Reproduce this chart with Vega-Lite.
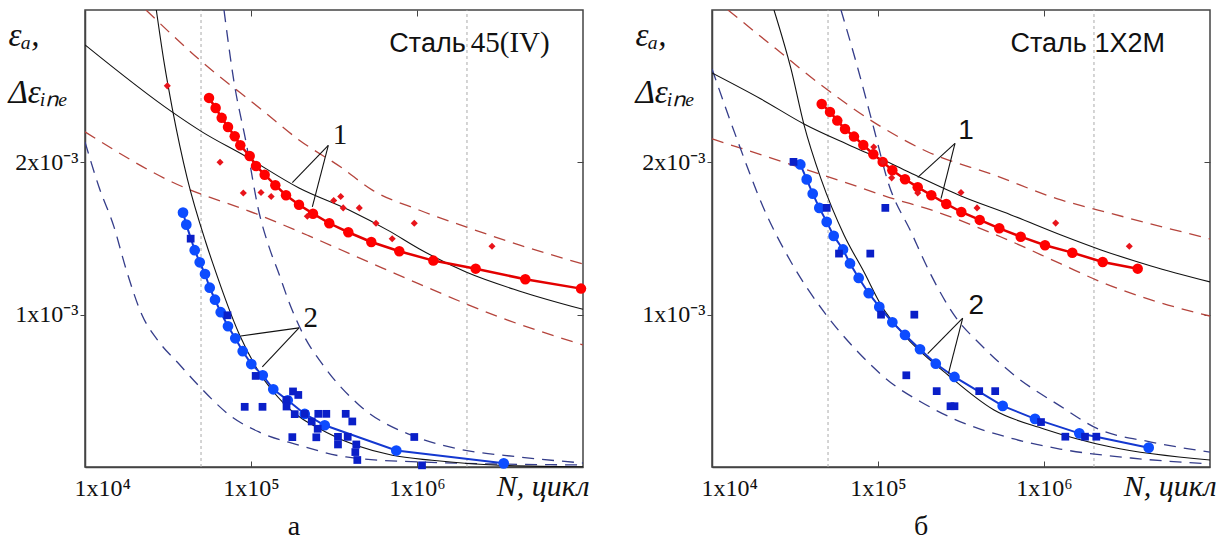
{
  "$schema": "https://vega.github.io/schema/vega-lite/v6.json",
  "background": "white",
  "padding": {"left": 7, "top": 8, "right": 3, "bottom": 0},
  "spacing": 44,
  "config": {
    "view": {"stroke": "#444", "strokeWidth": 1.5},
    "axis": {"grid": false, "domainColor": "#444", "domainWidth": 1.5, "tickColor": "#444", "labelColor": "#111", "labelFont": "Liberation Serif", "labelFontSize": 24, "titleColor": "#111"},
    "title": {"font": "Liberation Serif", "fontSize": 28, "fontWeight": "normal", "color": "#111"}
  },
  "hconcat": [
    {
      "width": 498, "height": 457,
      "data": {"name": "a"},
      "title": {"text": "а", "orient": "bottom", "dx": -40, "offset": 12},
      "resolve": {"axis": {"x": "independent", "y": "independent"}},
      "layer": [
        {
          "encoding": {
            "x": {"field": "N", "type": "quantitative", "scale": {"type": "log", "domain": [10000, 10000000], "nice": false},
              "axis": {"values": [10000, 100000, 1000000], "labelExpr": "datum.value == 10000 ? '1x10⁴' : datum.value == 100000 ? '1x10⁵' : '1x10⁶'", "labelFont": "Liberation Serif", "labelFontSize": 24, "tickSize": -6, "labelPadding": 15, "labelFlush": true, "labelFlushOffset": 11,
                "title": "N, цикл", "titleFont": "Liberation Serif", "titleFontStyle": "italic", "titleFontSize": 30, "titleFontWeight": "normal", "titleAlign": "right", "titleAnchor": "end", "titleX": 504, "titleY": 28, "titleBaseline": "alphabetic"}},
            "y": {"field": "e", "type": "quantitative", "scale": {"domain": [0, 0.003], "nice": false, "zero": false},
              "axis": {"values": [0.001, 0.002], "labelExpr": "datum.value < 0.0015 ? '1x10⁻³' : '2x10⁻³'", "labelFont": "Liberation Serif", "labelFontSize": 24, "tickSize": 5, "labelPadding": 2,
                "title": ["εₐ,", "Δεᵢₙₑ"], "titleAngle": 0, "titleAlign": "left", "titleBaseline": "alphabetic", "titleX": -77, "titleY": 35, "titleFont": "Liberation Serif", "titleFontStyle": "italic", "titleFontSize": 33, "titleFontWeight": "normal", "titleLineHeight": 57}}
          },
          "layer": [
            {"transform": [{"filter": "datum.s=='v'"}], "mark": {"type": "rule", "color": "#aaa", "strokeDash": [3, 3], "strokeWidth": 1}, "encoding": {"y2": {"field": "e2"}}},
            {"transform": [{"filter": "datum.s=='rdu' || datum.s=='rdl'"}], "mark": {"type": "line", "color": "#b5443c", "strokeDash": [12, 8], "strokeWidth": 1.3, "interpolate": "monotone", "clip": true}, "encoding": {"detail": {"field": "s"}}},
            {"transform": [{"filter": "datum.s=='bdu' || datum.s=='bdl'"}], "mark": {"type": "line", "color": "#353d8a", "strokeDash": [12, 8], "strokeWidth": 1.3, "interpolate": "monotone", "clip": true}, "encoding": {"detail": {"field": "s"}}},
            {"transform": [{"filter": "datum.s=='k1' || datum.s=='k2'"}], "mark": {"type": "line", "color": "#111", "strokeWidth": 1.1, "interpolate": "monotone", "clip": true}, "encoding": {"detail": {"field": "s"}}},
            {"transform": [{"filter": "datum.s=='rc'"}], "mark": {"type": "line", "color": "#e30000", "strokeWidth": 2.5}},
            {"transform": [{"filter": "datum.s=='rc'"}], "mark": {"type": "point", "filled": true, "opacity": 1, "size": 110, "color": "#ff0000"}},
            {"transform": [{"filter": "datum.s=='rdm'"}], "mark": {"type": "point", "shape": "diamond", "filled": true, "opacity": 1, "size": 50, "color": "#e8141b"}},
            {"transform": [{"filter": "datum.s=='bc'"}], "mark": {"type": "line", "color": "#1438d0", "strokeWidth": 2}},
            {"transform": [{"filter": "datum.s=='bc'"}], "mark": {"type": "point", "filled": true, "opacity": 1, "size": 115, "color": "#0d4cff"}},
            {"transform": [{"filter": "datum.s=='bsq'"}], "mark": {"type": "square", "opacity": 1, "size": 60, "color": "#0a1fc8"}},
            {"transform": [{"filter": "datum.s=='lead'"}], "mark": {"type": "rule", "color": "#111", "strokeWidth": 1.1}, "encoding": {"x2": {"field": "N2"}, "y2": {"field": "e2"}}},
            {"transform": [{"filter": "datum.s=='lblserif'"}], "mark": {"type": "text", "font": "Liberation Serif", "fontSize": 29, "align": "center", "baseline": "alphabetic", "color": "#111"}, "encoding": {"text": {"field": "t"}}},
            {"transform": [{"filter": "datum.s=='tsr'"}], "mark": {"type": "text", "font": "Liberation Sans", "fontSize": 27, "align": "right", "baseline": "alphabetic", "color": "#111"}, "encoding": {"text": {"field": "t"}}},
            {"transform": [{"filter": "datum.s=='tsl'"}], "mark": {"type": "text", "font": "Liberation Serif", "fontSize": 29, "align": "left", "baseline": "alphabetic", "color": "#111"}, "encoding": {"text": {"field": "t"}}}
          ]
        },
        {
          "transform": [{"filter": "datum.s=='v'"}],
          "mark": {"type": "point", "opacity": 0},
          "encoding": {
            "x": {"field": "N", "type": "quantitative", "scale": {"type": "log", "domain": [10000, 10000000], "nice": false}, "axis": {"orient": "top", "values": [100000, 1000000], "labels": false, "domain": false, "tickSize": -6, "title": null}},
            "y": {"field": "e", "type": "quantitative", "scale": {"domain": [0, 0.003], "nice": false, "zero": false}, "axis": {"orient": "right", "values": [0.001, 0.002], "labels": false, "domain": false, "tickSize": -6, "title": null}}
          }
        }
      ]
    },
    {
      "width": 498, "height": 457,
      "data": {"name": "b"},
      "title": {"text": "б", "orient": "bottom", "dx": -40, "offset": 12},
      "resolve": {"axis": {"x": "independent", "y": "independent"}},
      "layer": [
        {
          "encoding": {
            "x": {"field": "N", "type": "quantitative", "scale": {"type": "log", "domain": [10000, 10000000], "nice": false},
              "axis": {"values": [10000, 100000, 1000000], "labelExpr": "datum.value == 10000 ? '1x10⁴' : datum.value == 100000 ? '1x10⁵' : '1x10⁶'", "labelFont": "Liberation Serif", "labelFontSize": 24, "tickSize": -6, "labelPadding": 15, "labelFlush": true, "labelFlushOffset": 11,
                "title": "N, цикл", "titleFont": "Liberation Serif", "titleFontStyle": "italic", "titleFontSize": 30, "titleFontWeight": "normal", "titleAlign": "right", "titleAnchor": "end", "titleX": 504, "titleY": 28, "titleBaseline": "alphabetic"}},
            "y": {"field": "e", "type": "quantitative", "scale": {"domain": [0, 0.003], "nice": false, "zero": false},
              "axis": {"values": [0.001, 0.002], "labelExpr": "datum.value < 0.0015 ? '1x10⁻³' : '2x10⁻³'", "labelFont": "Liberation Serif", "labelFontSize": 24, "tickSize": 5, "labelPadding": 2,
                "title": ["εₐ,", "Δεᵢₙₑ"], "titleAngle": 0, "titleAlign": "left", "titleBaseline": "alphabetic", "titleX": -77, "titleY": 35, "titleFont": "Liberation Serif", "titleFontStyle": "italic", "titleFontSize": 33, "titleFontWeight": "normal", "titleLineHeight": 57}}
          },
          "layer": [
            {"transform": [{"filter": "datum.s=='v'"}], "mark": {"type": "rule", "color": "#aaa", "strokeDash": [3, 3], "strokeWidth": 1}, "encoding": {"y2": {"field": "e2"}}},
            {"transform": [{"filter": "datum.s=='rdu' || datum.s=='rdl'"}], "mark": {"type": "line", "color": "#b5443c", "strokeDash": [12, 8], "strokeWidth": 1.3, "interpolate": "monotone", "clip": true}, "encoding": {"detail": {"field": "s"}}},
            {"transform": [{"filter": "datum.s=='bdu' || datum.s=='bdl'"}], "mark": {"type": "line", "color": "#353d8a", "strokeDash": [12, 8], "strokeWidth": 1.3, "interpolate": "monotone", "clip": true}, "encoding": {"detail": {"field": "s"}}},
            {"transform": [{"filter": "datum.s=='k1' || datum.s=='k2'"}], "mark": {"type": "line", "color": "#111", "strokeWidth": 1.1, "interpolate": "monotone", "clip": true}, "encoding": {"detail": {"field": "s"}}},
            {"transform": [{"filter": "datum.s=='rc'"}], "mark": {"type": "line", "color": "#e30000", "strokeWidth": 2.5}},
            {"transform": [{"filter": "datum.s=='rc'"}], "mark": {"type": "point", "filled": true, "opacity": 1, "size": 110, "color": "#ff0000"}},
            {"transform": [{"filter": "datum.s=='rdm'"}], "mark": {"type": "point", "shape": "diamond", "filled": true, "opacity": 1, "size": 50, "color": "#e8141b"}},
            {"transform": [{"filter": "datum.s=='bc'"}], "mark": {"type": "line", "color": "#1438d0", "strokeWidth": 2}},
            {"transform": [{"filter": "datum.s=='bc'"}], "mark": {"type": "point", "filled": true, "opacity": 1, "size": 115, "color": "#0d4cff"}},
            {"transform": [{"filter": "datum.s=='bsq'"}], "mark": {"type": "square", "opacity": 1, "size": 60, "color": "#0a1fc8"}},
            {"transform": [{"filter": "datum.s=='lead'"}], "mark": {"type": "rule", "color": "#111", "strokeWidth": 1.1}, "encoding": {"x2": {"field": "N2"}, "y2": {"field": "e2"}}},
            {"transform": [{"filter": "datum.s=='lblsans'"}], "mark": {"type": "text", "font": "Liberation Sans", "fontSize": 28, "align": "center", "baseline": "alphabetic", "color": "#111"}, "encoding": {"text": {"field": "t"}}},
            {"transform": [{"filter": "datum.s=='tsc'"}], "mark": {"type": "text", "font": "Liberation Sans", "fontSize": 27, "align": "center", "baseline": "alphabetic", "color": "#111"}, "encoding": {"text": {"field": "t"}}}
          ]
        },
        {
          "transform": [{"filter": "datum.s=='v'"}],
          "mark": {"type": "point", "opacity": 0},
          "encoding": {
            "x": {"field": "N", "type": "quantitative", "scale": {"type": "log", "domain": [10000, 10000000], "nice": false}, "axis": {"orient": "top", "values": [100000, 1000000], "labels": false, "domain": false, "tickSize": -6, "title": null}},
            "y": {"field": "e", "type": "quantitative", "scale": {"domain": [0, 0.003], "nice": false, "zero": false}, "axis": {"orient": "right", "values": [0.001, 0.002], "labels": false, "domain": false, "tickSize": -6, "title": null}}
          }
        }
      ]
    }
  ],
  "datasets": {
    "a": [
      {"s": "v", "N": 50000, "e": 0, "e2": 0.003},
      {"s": "v", "N": 2000000, "e": 0, "e2": 0.003},
      {"s": "rc", "N": 55850, "e": 0.002423},
      {"s": "rc", "N": 61240, "e": 0.002357},
      {"s": "rc", "N": 66600, "e": 0.002292},
      {"s": "rc", "N": 72700, "e": 0.002232},
      {"s": "rc", "N": 79800, "e": 0.002171},
      {"s": "rc", "N": 86200, "e": 0.002112},
      {"s": "rc", "N": 98200, "e": 0.002042},
      {"s": "rc", "N": 107200, "e": 0.001976},
      {"s": "rc", "N": 120900, "e": 0.001919},
      {"s": "rc", "N": 140100, "e": 0.00185},
      {"s": "rc", "N": 162500, "e": 0.001784},
      {"s": "rc", "N": 194600, "e": 0.001722},
      {"s": "rc", "N": 236300, "e": 0.001663},
      {"s": "rc", "N": 296200, "e": 0.0016},
      {"s": "rc", "N": 385600, "e": 0.001541},
      {"s": "rc", "N": 530500, "e": 0.001477},
      {"s": "rc", "N": 782300, "e": 0.001416},
      {"s": "rc", "N": 1254000, "e": 0.001355},
      {"s": "rc", "N": 2257000, "e": 0.001302},
      {"s": "rc", "N": 4492000, "e": 0.001232},
      {"s": "rc", "N": 9727000, "e": 0.001171},
      {"s": "rdm", "N": 31320, "e": 0.002502},
      {"s": "rdm", "N": 65080, "e": 0.002001},
      {"s": "rdm", "N": 89900, "e": 0.001799},
      {"s": "rdm", "N": 114900, "e": 0.001802},
      {"s": "rdm", "N": 132300, "e": 0.001776},
      {"s": "rdm", "N": 218400, "e": 0.001646},
      {"s": "rdm", "N": 314900, "e": 0.001749},
      {"s": "rdm", "N": 347100, "e": 0.001776},
      {"s": "rdm", "N": 359300, "e": 0.001701},
      {"s": "rdm", "N": 449200, "e": 0.001701},
      {"s": "rdm", "N": 566200, "e": 0.0016},
      {"s": "rdm", "N": 708900, "e": 0.001498},
      {"s": "rdm", "N": 963100, "e": 0.0016},
      {"s": "rdm", "N": 2830000, "e": 0.001449},
      {"s": "bc", "N": 38940, "e": 0.00167},
      {"s": "bc", "N": 40760, "e": 0.001591},
      {"s": "bc", "N": 45800, "e": 0.001423},
      {"s": "bc", "N": 49090, "e": 0.001344},
      {"s": "bc", "N": 52840, "e": 0.001267},
      {"s": "bc", "N": 56390, "e": 0.001177},
      {"s": "bc", "N": 60690, "e": 0.001098},
      {"s": "bc", "N": 65690, "e": 0.001016},
      {"s": "bc", "N": 72670, "e": 0.000924},
      {"s": "bc", "N": 80430, "e": 0.000845},
      {"s": "bc", "N": 89130, "e": 0.00076},
      {"s": "bc", "N": 100400, "e": 0.000676},
      {"s": "bc", "N": 117700, "e": 0.000602},
      {"s": "bc", "N": 136200, "e": 0.00051},
      {"s": "bc", "N": 166400, "e": 0.000438},
      {"s": "bc", "N": 210700, "e": 0.000348},
      {"s": "bc", "N": 278000, "e": 0.000274},
      {"s": "bc", "N": 750500, "e": 0.000108},
      {"s": "bc", "N": 3330000, "e": 0.000024},
      {"s": "bsq", "N": 43310, "e": 0.001499},
      {"s": "bsq", "N": 72170, "e": 0.000996},
      {"s": "bsq", "N": 91630, "e": 0.000395},
      {"s": "bsq", "N": 117300, "e": 0.000395},
      {"s": "bsq", "N": 106700, "e": 0.000598},
      {"s": "bsq", "N": 163700, "e": 0.00044},
      {"s": "bsq", "N": 179100, "e": 0.000496},
      {"s": "bsq", "N": 192700, "e": 0.000473},
      {"s": "bsq", "N": 163700, "e": 0.000397},
      {"s": "bsq", "N": 177400, "e": 0.000196},
      {"s": "bsq", "N": 183400, "e": 0.000347},
      {"s": "bsq", "N": 210700, "e": 0.000349},
      {"s": "bsq", "N": 232100, "e": 0.000299},
      {"s": "bsq", "N": 254300, "e": 0.000349},
      {"s": "bsq", "N": 284200, "e": 0.000349},
      {"s": "bsq", "N": 252200, "e": 0.000251},
      {"s": "bsq", "N": 247400, "e": 0.000195},
      {"s": "bsq", "N": 334200, "e": 0.000198},
      {"s": "bsq", "N": 334200, "e": 0.000148},
      {"s": "bsq", "N": 372000, "e": 0.000349},
      {"s": "bsq", "N": 407600, "e": 0.000299},
      {"s": "bsq", "N": 382400, "e": 0.000198},
      {"s": "bsq", "N": 430900, "e": 0.000148},
      {"s": "bsq", "N": 425000, "e": 0.000098},
      {"s": "bsq", "N": 436900, "e": 0.000046},
      {"s": "bsq", "N": 963000, "e": 0.000197},
      {"s": "bsq", "N": 1072000, "e": 0.000011},
      {"s": "k1", "N": 10000, "e": 0.002771},
      {"s": "k1", "N": 33420, "e": 0.002331},
      {"s": "k1", "N": 50690, "e": 0.0022},
      {"s": "k1", "N": 92000, "e": 0.002042},
      {"s": "k1", "N": 194600, "e": 0.001832},
      {"s": "k1", "N": 389400, "e": 0.001687},
      {"s": "k1", "N": 678200, "e": 0.00155},
      {"s": "k1", "N": 1028000, "e": 0.001433},
      {"s": "k1", "N": 1973000, "e": 0.00128},
      {"s": "k1", "N": 4118000, "e": 0.001156},
      {"s": "k1", "N": 10000000, "e": 0.001035},
      {"s": "k2", "N": 26890, "e": 0.003},
      {"s": "k2", "N": 29920, "e": 0.002659},
      {"s": "k2", "N": 33570, "e": 0.002353},
      {"s": "k2", "N": 41330, "e": 0.001893},
      {"s": "k2", "N": 53340, "e": 0.001477},
      {"s": "k2", "N": 59020, "e": 0.001333},
      {"s": "k2", "N": 84670, "e": 0.000875},
      {"s": "k2", "N": 111700, "e": 0.000624},
      {"s": "k2", "N": 161800, "e": 0.000405},
      {"s": "k2", "N": 281800, "e": 0.00023},
      {"s": "k2", "N": 710000, "e": 0.000077},
      {"s": "k2", "N": 1232000, "e": 0.000044},
      {"s": "k2", "N": 3119000, "e": 0.000011},
      {"s": "k2", "N": 10000000, "e": 0.000002},
      {"s": "rdu", "N": 23300, "e": 0.003},
      {"s": "rdu", "N": 50670, "e": 0.002659},
      {"s": "rdu", "N": 116500, "e": 0.002344},
      {"s": "rdu", "N": 194600, "e": 0.002147},
      {"s": "rdu", "N": 353400, "e": 0.001963},
      {"s": "rdu", "N": 535700, "e": 0.001819},
      {"s": "rdu", "N": 1028000, "e": 0.001687},
      {"s": "rdu", "N": 1973000, "e": 0.001576},
      {"s": "rdu", "N": 4118000, "e": 0.001458},
      {"s": "rdu", "N": 10000000, "e": 0.001333},
      {"s": "rdl", "N": 10000, "e": 0.0022},
      {"s": "rdl", "N": 33430, "e": 0.001871},
      {"s": "rdl", "N": 111700, "e": 0.001655},
      {"s": "rdl", "N": 223600, "e": 0.001517},
      {"s": "rdl", "N": 615500, "e": 0.001307},
      {"s": "rdl", "N": 1028000, "e": 0.001202},
      {"s": "rdl", "N": 3119000, "e": 0.000985},
      {"s": "rdl", "N": 10000000, "e": 0.000801},
      {"s": "bdl", "N": 10000, "e": 0.002134},
      {"s": "bdl", "N": 12140, "e": 0.001838},
      {"s": "bdl", "N": 14950, "e": 0.001576},
      {"s": "bdl", "N": 17660, "e": 0.0013},
      {"s": "bdl", "N": 22050, "e": 0.000998},
      {"s": "bdl", "N": 27920, "e": 0.000821},
      {"s": "bdl", "N": 36840, "e": 0.000676},
      {"s": "bdl", "N": 49290, "e": 0.000525},
      {"s": "bdl", "N": 76830, "e": 0.000328},
      {"s": "bdl", "N": 111700, "e": 0.00023},
      {"s": "bdl", "N": 194600, "e": 0.000144},
      {"s": "bdl", "N": 373500, "e": 0.000066},
      {"s": "bdl", "N": 1028000, "e": 0.000033},
      {"s": "bdl", "N": 10000000, "e": 0.000013},
      {"s": "bdu", "N": 68760, "e": 0.003},
      {"s": "bdu", "N": 79000, "e": 0.002528},
      {"s": "bdu", "N": 93300, "e": 0.002134},
      {"s": "bdu", "N": 111700, "e": 0.001674},
      {"s": "bdu", "N": 128400, "e": 0.001445},
      {"s": "bdu", "N": 147500, "e": 0.001267},
      {"s": "bdu", "N": 169300, "e": 0.001083},
      {"s": "bdu", "N": 202900, "e": 0.000886},
      {"s": "bdu", "N": 283000, "e": 0.000643},
      {"s": "bdu", "N": 447300, "e": 0.000407},
      {"s": "bdu", "N": 1028000, "e": 0.00019},
      {"s": "bdu", "N": 1791000, "e": 0.000118},
      {"s": "bdu", "N": 4118000, "e": 0.000066},
      {"s": "bdu", "N": 10000000, "e": 0.000026},
      {"s": "lead", "N": 292200, "e": 0.002112, "N2": 177400, "e2": 0.001867},
      {"s": "lead", "N": 292200, "e": 0.002112, "N2": 234100, "e2": 0.001707},
      {"s": "lead", "N": 194600, "e": 0.000913, "N2": 86700, "e2": 0.00086},
      {"s": "lead", "N": 194600, "e": 0.000913, "N2": 117000, "e2": 0.000657},
      {"s": "lblserif", "N": 343700, "e": 0.002121, "t": "1"},
      {"s": "lblserif", "N": 228900, "e": 0.000919, "t": "2"},
      {"s": "tsr", "N": 1966000, "e": 0.002725, "t": "Сталь"},
      {"s": "tsl", "N": 2107000, "e": 0.002725, "t": "45(IV)"}
    ],
    "b": [
      {"s": "v", "N": 50000, "e": 0, "e2": 0.003},
      {"s": "v", "N": 2000000, "e": 0, "e2": 0.003},
      {"s": "rc", "N": 45790, "e": 0.002383},
      {"s": "rc", "N": 51370, "e": 0.002331},
      {"s": "rc", "N": 56860, "e": 0.002274},
      {"s": "rc", "N": 63270, "e": 0.002219},
      {"s": "rc", "N": 71700, "e": 0.002169},
      {"s": "rc", "N": 81530, "e": 0.002114},
      {"s": "rc", "N": 93700, "e": 0.002053},
      {"s": "rc", "N": 106700, "e": 0.002003},
      {"s": "rc", "N": 122000, "e": 0.001948},
      {"s": "rc", "N": 145400, "e": 0.001889},
      {"s": "rc", "N": 173500, "e": 0.001837},
      {"s": "rc", "N": 209500, "e": 0.001784},
      {"s": "rc", "N": 257800, "e": 0.001727},
      {"s": "rc", "N": 317600, "e": 0.001674},
      {"s": "rc", "N": 410000, "e": 0.001622},
      {"s": "rc", "N": 538000, "e": 0.001567},
      {"s": "rc", "N": 723900, "e": 0.001512},
      {"s": "rc", "N": 1014000, "e": 0.001456},
      {"s": "rc", "N": 1481000, "e": 0.001407},
      {"s": "rc", "N": 2257000, "e": 0.001346},
      {"s": "rc", "N": 3668000, "e": 0.001302},
      {"s": "rdm", "N": 94220, "e": 0.002101},
      {"s": "rdm", "N": 107200, "e": 0.002003},
      {"s": "rdm", "N": 120900, "e": 0.001898},
      {"s": "rdm", "N": 173500, "e": 0.001799},
      {"s": "rdm", "N": 316200, "e": 0.001802},
      {"s": "rdm", "N": 394900, "e": 0.001701},
      {"s": "rdm", "N": 1176000, "e": 0.001601},
      {"s": "rdm", "N": 3265000, "e": 0.001449},
      {"s": "bc", "N": 34040, "e": 0.001986},
      {"s": "bc", "N": 37200, "e": 0.001888},
      {"s": "bc", "N": 40430, "e": 0.001794},
      {"s": "bc", "N": 44310, "e": 0.001701},
      {"s": "bc", "N": 49090, "e": 0.001609},
      {"s": "bc", "N": 54090, "e": 0.001517},
      {"s": "bc", "N": 61540, "e": 0.001428},
      {"s": "bc", "N": 67810, "e": 0.001336},
      {"s": "bc", "N": 76490, "e": 0.001241},
      {"s": "bc", "N": 87900, "e": 0.001141},
      {"s": "bc", "N": 101800, "e": 0.001051},
      {"s": "bc", "N": 122000, "e": 0.00095},
      {"s": "bc", "N": 145400, "e": 0.000867},
      {"s": "bc", "N": 179100, "e": 0.000773},
      {"s": "bc", "N": 222900, "e": 0.000678},
      {"s": "bc", "N": 288900, "e": 0.000591},
      {"s": "bc", "N": 563900, "e": 0.000401},
      {"s": "bc", "N": 882700, "e": 0.000316},
      {"s": "bc", "N": 1632000, "e": 0.000221},
      {"s": "bc", "N": 4272000, "e": 0.000127},
      {"s": "bsq", "N": 30970, "e": 0.002003},
      {"s": "bsq", "N": 49090, "e": 0.001701},
      {"s": "bsq", "N": 110700, "e": 0.001701},
      {"s": "bsq", "N": 58220, "e": 0.001401},
      {"s": "bsq", "N": 89860, "e": 0.001401},
      {"s": "bsq", "N": 104300, "e": 0.001},
      {"s": "bsq", "N": 165500, "e": 0.001},
      {"s": "bsq", "N": 148100, "e": 0.000602},
      {"s": "bsq", "N": 225700, "e": 0.000498},
      {"s": "bsq", "N": 273400, "e": 0.000399},
      {"s": "bsq", "N": 288900, "e": 0.000399},
      {"s": "bsq", "N": 407100, "e": 0.000498},
      {"s": "bsq", "N": 508200, "e": 0.000498},
      {"s": "bsq", "N": 959300, "e": 0.000295},
      {"s": "bsq", "N": 1344000, "e": 0.000199},
      {"s": "bsq", "N": 1766000, "e": 0.000199},
      {"s": "bsq", "N": 2066000, "e": 0.000199},
      {"s": "k1", "N": 10000, "e": 0.002587},
      {"s": "k1", "N": 19730, "e": 0.002416},
      {"s": "k1", "N": 35840, "e": 0.002252},
      {"s": "k1", "N": 68760, "e": 0.002108},
      {"s": "k1", "N": 124900, "e": 0.001983},
      {"s": "k1", "N": 181600, "e": 0.001898},
      {"s": "k1", "N": 316200, "e": 0.001779},
      {"s": "k1", "N": 632600, "e": 0.001655},
      {"s": "k1", "N": 1266000, "e": 0.001523},
      {"s": "k1", "N": 2205000, "e": 0.001425},
      {"s": "k1", "N": 4412000, "e": 0.00132},
      {"s": "k1", "N": 10000000, "e": 0.001215},
      {"s": "k2", "N": 23630, "e": 0.003},
      {"s": "k2", "N": 29920, "e": 0.002613},
      {"s": "k2", "N": 35840, "e": 0.002246},
      {"s": "k2", "N": 45350, "e": 0.001891},
      {"s": "k2", "N": 62400, "e": 0.001523},
      {"s": "k2", "N": 82360, "e": 0.00128},
      {"s": "k2", "N": 104300, "e": 0.001064},
      {"s": "k2", "N": 143400, "e": 0.000867},
      {"s": "k2", "N": 264100, "e": 0.000604},
      {"s": "k2", "N": 499700, "e": 0.000374},
      {"s": "k2", "N": 1000000, "e": 0.00025},
      {"s": "k2", "N": 2533000, "e": 0.000131},
      {"s": "k2", "N": 10000000, "e": 0.000046},
      {"s": "rdu", "N": 12480, "e": 0.003},
      {"s": "rdu", "N": 24300, "e": 0.002745},
      {"s": "rdu", "N": 45350, "e": 0.002508},
      {"s": "rdu", "N": 100000, "e": 0.002246},
      {"s": "rdu", "N": 200100, "e": 0.002068},
      {"s": "rdu", "N": 499700, "e": 0.001917},
      {"s": "rdu", "N": 1266000, "e": 0.001753},
      {"s": "rdu", "N": 2115000, "e": 0.001687},
      {"s": "rdu", "N": 10000000, "e": 0.001497},
      {"s": "rdl", "N": 10000, "e": 0.002154},
      {"s": "rdl", "N": 21750, "e": 0.002035},
      {"s": "rdl", "N": 62400, "e": 0.001871},
      {"s": "rdl", "N": 124900, "e": 0.00176},
      {"s": "rdl", "N": 200100, "e": 0.001694},
      {"s": "rdl", "N": 550800, "e": 0.00151},
      {"s": "rdl", "N": 1266000, "e": 0.001333},
      {"s": "rdl", "N": 2205000, "e": 0.001215},
      {"s": "rdl", "N": 4412000, "e": 0.001097},
      {"s": "rdl", "N": 10000000, "e": 0.000991},
      {"s": "bdl", "N": 10000, "e": 0.002613},
      {"s": "bdl", "N": 14340, "e": 0.002134},
      {"s": "bdl", "N": 20570, "e": 0.001694},
      {"s": "bdl", "N": 29920, "e": 0.001346},
      {"s": "bdl", "N": 47280, "e": 0.001018},
      {"s": "bdl", "N": 75770, "e": 0.000755},
      {"s": "bdl", "N": 124900, "e": 0.000538},
      {"s": "bdl", "N": 181600, "e": 0.000427},
      {"s": "bdl", "N": 287000, "e": 0.000315},
      {"s": "bdl", "N": 659500, "e": 0.000184},
      {"s": "bdl", "N": 1249000, "e": 0.000118},
      {"s": "bdl", "N": 3343000, "e": 0.000059},
      {"s": "bdl", "N": 10000000, "e": 0.00002},
      {"s": "bdu", "N": 59850, "e": 0.003},
      {"s": "bdu", "N": 75770, "e": 0.002613},
      {"s": "bdu", "N": 94600, "e": 0.002219},
      {"s": "bdu", "N": 114900, "e": 0.001871},
      {"s": "bdu", "N": 158100, "e": 0.001543},
      {"s": "bdu", "N": 208600, "e": 0.001261},
      {"s": "bdu", "N": 287000, "e": 0.000998},
      {"s": "bdu", "N": 417400, "e": 0.000801},
      {"s": "bdu", "N": 659500, "e": 0.000604},
      {"s": "bdu", "N": 1249000, "e": 0.000401},
      {"s": "bdu", "N": 2115000, "e": 0.00025},
      {"s": "bdu", "N": 4412000, "e": 0.000164},
      {"s": "bdu", "N": 10000000, "e": 0.000098},
      {"s": "lead", "N": 291000, "e": 0.002124, "N2": 173500, "e2": 0.001901},
      {"s": "lead", "N": 291000, "e": 0.002124, "N2": 239600, "e2": 0.001762},
      {"s": "lead", "N": 323700, "e": 0.000978, "N2": 199300, "e2": 0.000744},
      {"s": "lead", "N": 323700, "e": 0.000978, "N2": 265900, "e2": 0.000614},
      {"s": "lblsans", "N": 338900, "e": 0.002154, "t": "1"},
      {"s": "lblsans", "N": 391000, "e": 0.001005, "t": "2"},
      {"s": "tsc", "N": 1834000, "e": 0.002725, "t": "Сталь 1Х2М"}
    ]
  }
}
